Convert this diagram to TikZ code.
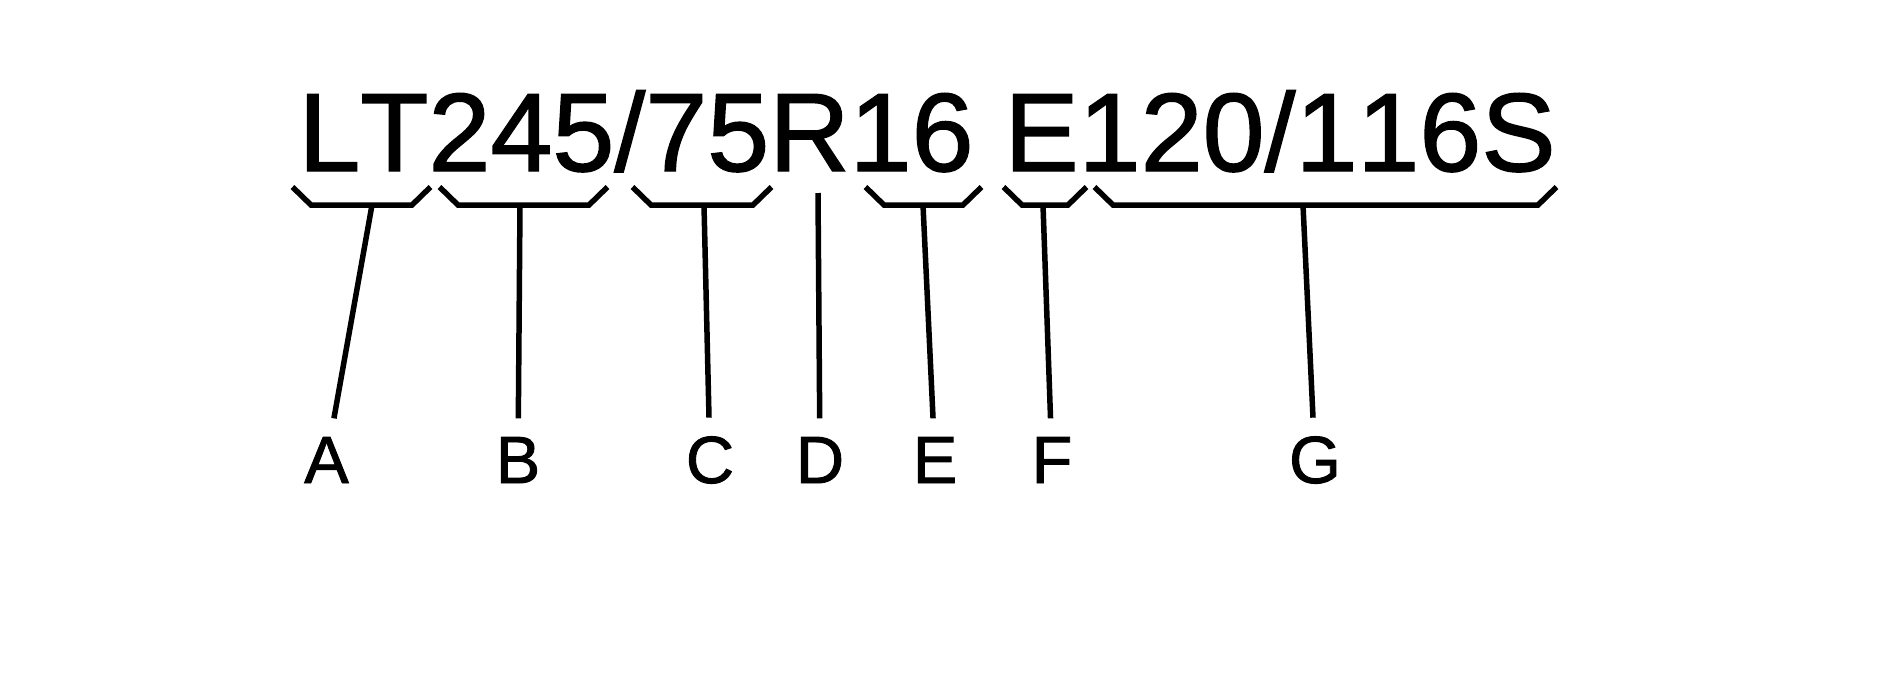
\documentclass[tikz,border=0pt]{standalone}
\usepackage{fontspec}
\setmainfont{Liberation Sans}[Kerning=Off, FakeBold=1.3]

\begin{document}
\begin{tikzpicture}[
  brace/.style={line width=0.055cm},
  lead/.style={line width=0.055cm},
  lbl/.style={font=\fontsize{19}{23}\selectfont, inner sep=0.18cm, anchor=base}]
\useasboundingbox (0,0) rectangle (18.93,-6.72);
\path
(2.978,-1.71) node[anchor=base west, inner sep=0, font=\fontsize{31.7}{38}\selectfont] (size) {LT245/75R16 E120/116S};
% braces under the groups
\foreach \l/\r in {3.11/4.12, 4.58/5.89, 6.51/7.53, 8.84/9.63, 10.22/10.68, 11.13/15.38}
  \draw[brace] (\l-0.185,-1.87) -- (\l,-2.05) -- (\r,-2.05) -- (\r+0.185,-1.87);
\path
(3.72,-2.05) coordinate (tA)
(5.20,-2.05) coordinate (tB)
(7.04,-2.05) coordinate (tC)
(8.18,-1.93) coordinate (tD)
(9.23,-2.05) coordinate (tE)
(10.43,-2.05) coordinate (tF)
(13.03,-2.05) coordinate (tG);
\path
(3.265,-4.83) node[lbl] (A) {A}
(5.18,-4.83) node[lbl] (B) {B}
(7.10,-4.83) node[lbl] (C) {C}
(8.20,-4.83) node[lbl] (D) {D}
(9.35,-4.83) node[lbl] (E) {E}
(10.52,-4.83) node[lbl] (F) {F}
(13.15,-4.83) node[lbl] (G) {G};
\foreach \n in {A,B,C,D,E,F,G}
  \draw[lead] (t\n) -- (\n);
%\draw[lead] (tD) -- (D.north);
\end{tikzpicture}
\end{document}
